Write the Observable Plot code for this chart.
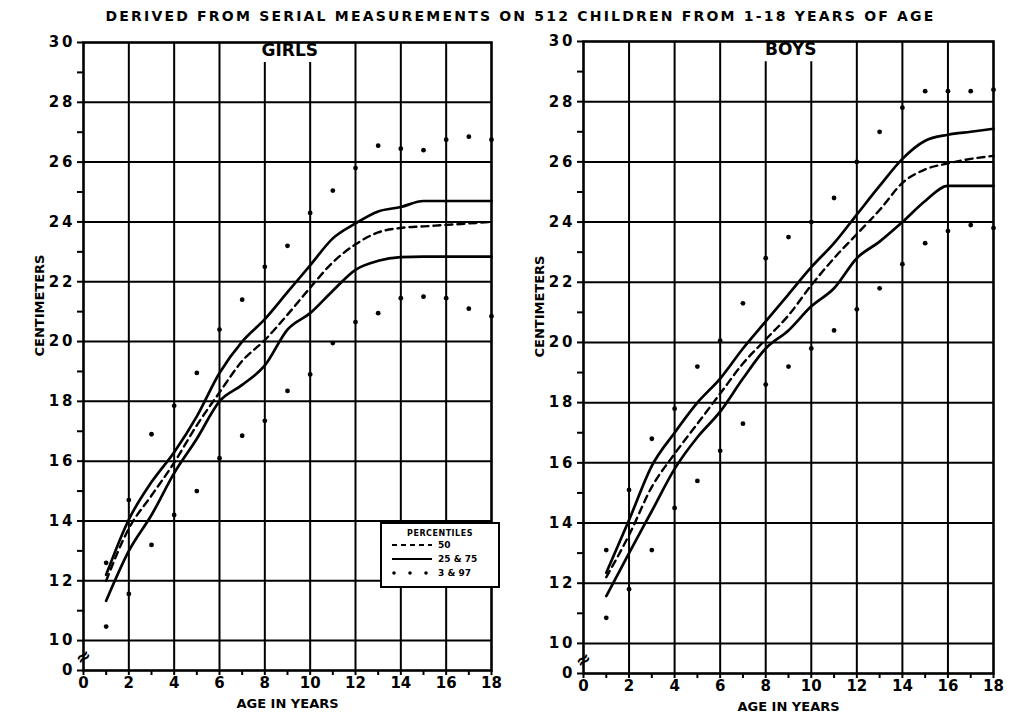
<!DOCTYPE html>
<html>
<head>
<meta charset="utf-8">
<script src="https://cdn.jsdelivr.net/npm/d3@7"></script>
<script src="https://cdn.jsdelivr.net/npm/@observablehq/plot@0.6"></script>
<style>
  body { margin: 0; background: #fff; }
  #root { position: relative; width: 1027px; height: 723px; background: #fff; overflow: hidden; font-family: "DejaVu Sans", sans-serif; }
  #title { position: absolute; left: 0; width: 1027px; top: 8px; text-align: center; font-weight: bold; font-size: 14px; letter-spacing: 2.2px; color: #000; white-space: nowrap; padding-left: 14px; box-sizing: border-box; }
  .panel { position: absolute; top: 0; }
  .panel svg [aria-label="y-axis tick label"] text { letter-spacing: 3px; }
  #legend { position: absolute; left: 380px; top: 522px; width: 116px; height: 62px; border: 2.5px solid #000; background: #fff; font-weight: bold; font-size: 8px; color: #000; }
  #legend .hdr { text-align: center; margin-top: 5px; letter-spacing: 0.5px; }
  #legend .row { display: flex; align-items: center; height: 14px; padding-left: 8px; }
  #legend .row span { margin-left: 4px; font-size: 9px; }
</style>
</head>
<body>
<div id="root">
  <div id="title">DERIVED FROM SERIAL MEASUREMENTS ON 512 CHILDREN FROM 1-18 YEARS OF AGE</div>
  <div id="girls" class="panel" style="left:0px"></div>
  <div id="boys" class="panel" style="left:500px"></div>
  <div id="legend"></div>
</div>
<script>
// ---- data ----
const ages = [1, 2, 3, 4, 5, 6, 7, 8, 9, 10, 11, 12, 13, 14, 15, 16, 17, 18];

const girlsP3  = [10.47, 11.56, 13.2, 14.2, 15.0, 16.1, 16.85, 17.35, 18.35, 18.9, 19.95, 20.65, 20.95, 21.45, 21.5, 21.45, 21.1, 20.85];
const girlsP25 = [11.33, 13.0, 14.2, 15.6, 16.75, 18.0, 18.55, 19.2, 20.4, 20.95, 21.7, 22.4, 22.7, 22.82, 22.84, 22.84, 22.84, 22.84];
const girlsP50 = [12.0, 13.75, 14.85, 15.95, 17.2, 18.3, 19.35, 20.05, 20.9, 21.8, 22.65, 23.25, 23.65, 23.8, 23.85, 23.9, 23.95, 24.0];
const girlsP75 = [12.2, 14.05, 15.3, 16.3, 17.5, 18.95, 20.0, 20.75, 21.65, 22.55, 23.45, 23.95, 24.35, 24.5, 24.7, 24.7, 24.7, 24.7];
const girlsP97 = [12.6, 14.7, 16.9, 17.85, 18.95, 20.4, 21.4, 22.5, 23.2, 24.3, 25.05, 25.8, 26.55, 26.45, 26.4, 26.75, 26.85, 26.75];

const boysP3  = [10.85, 11.8, 13.1, 14.5, 15.4, 16.4, 17.3, 18.6, 19.2, 19.8, 20.4, 21.1, 21.8, 22.6, 23.3, 23.7, 23.9, 23.8];
const boysP25 = [11.57, 13.0, 14.4, 15.8, 16.85, 17.7, 18.8, 19.8, 20.4, 21.2, 21.8, 22.8, 23.35, 24.0, 24.7, 25.2, 25.2, 25.2];
const boysP50 = [12.2, 13.6, 15.2, 16.3, 17.3, 18.3, 19.3, 20.1, 20.9, 21.9, 22.8, 23.6, 24.4, 25.3, 25.75, 25.95, 26.1, 26.2];
const boysP75 = [12.35, 14.1, 15.9, 17.0, 18.0, 18.8, 19.8, 20.7, 21.6, 22.5, 23.3, 24.25, 25.2, 26.1, 26.7, 26.9, 27.0, 27.1];
const boysP97 = [13.1, 15.1, 16.8, 17.8, 19.2, 20.06, 21.3, 22.8, 23.5, 24.0, 24.8, 26.0, 27.0, 27.8, 28.35, 28.35, 28.35, 28.4];

const xTicks = [0, 1, 2, 3, 4, 5, 6, 7, 8, 9, 10, 11, 12, 13, 14, 15, 16, 17, 18];
const yTicks = [9, 10, 11, 12, 13, 14, 15, 16, 17, 18, 19, 20, 21, 22, 23, 24, 25, 26, 27, 28, 29, 30];
const gridX = [2, 4, 6, 8, 10, 12, 14, 16];
const gridY = [10, 12, 14, 16, 18, 20, 22, 24, 26, 28];

function rows(vals) { return ages.map((a, i) => ({age: a, cm: vals[i]})); }

function panel(name, s, m) {
  const titleAge = 9.1;
  return Plot.plot({
    width: m.width, height: 723,
    marginLeft: m.left, marginRight: m.right, marginTop: m.top, marginBottom: m.bottom,
    x: {domain: [0, 18]},
    y: {domain: [9, 30]},
    style: {fontFamily: "DejaVu Sans", fontWeight: "bold", fontSize: "15px", color: "#000", background: "transparent"},
    marks: [
      Plot.ruleY(gridY, {stroke: "#000", strokeWidth: 2}),
      Plot.ruleX(gridX, {y1: 9, y2: d => (d === 8 || d === 10) ? 29.33 : 30, stroke: "#000", strokeWidth: 2}),
      Plot.frame({stroke: "#000", strokeWidth: 2.6}),
      Plot.axisY(yTicks, {tickSize: 6, tickPadding: 2, tickFormat: d => d === 9 ? "0" : (d % 2 === 0 ? String(d) : ""), label: null, strokeWidth: 2}),
      Plot.axisX(xTicks, {tickSize: 5, tickPadding: 2, tickFormat: d => d % 2 === 0 ? String(d) : "", label: null, strokeWidth: 2}),
      Plot.text(["CENTIMETERS"], {frameAnchor: "left", dx: -44, rotate: -90, fontSize: 13, fontWeight: "bold", text: d => d}),
      Plot.text(["AGE IN YEARS"], {frameAnchor: "bottom", dy: 37, fontSize: 13, fontWeight: "bold", text: d => d}),
      Plot.text([name], {x: titleAge, y: 29.72, fontSize: 17, fontWeight: "bold", text: d => d}),
      Plot.text(["≈"], {x: 0, y: 9.45, fontSize: 18, fontWeight: "bold", rotate: -35, text: d => d}),
      Plot.dot(rows(s.p97), {x: "age", y: "cm", r: 2.4, fill: "#000"}),
      Plot.dot(rows(s.p3), {x: "age", y: "cm", r: 2.4, fill: "#000"}),
      Plot.line(rows(s.p25), {x: "age", y: "cm", stroke: "#000", strokeWidth: 2.7, curve: "monotone-x"}),
      Plot.line(rows(s.p75), {x: "age", y: "cm", stroke: "#000", strokeWidth: 2.7, curve: "monotone-x"}),
      Plot.line(rows(s.p50), {x: "age", y: "cm", stroke: "#000", strokeWidth: 2.4, strokeDasharray: "7,5", curve: "monotone-x"})
    ]
  });
}

document.getElementById("girls").appendChild(panel("GIRLS",
  {p3: girlsP3, p25: girlsP25, p50: girlsP50, p75: girlsP75, p97: girlsP97},
  {width: 515, left: 83, right: 24, top: 42, bottom: 53}));
document.getElementById("boys").appendChild(panel("BOYS",
  {p3: boysP3, p25: boysP25, p50: boysP50, p75: boysP75, p97: boysP97},
  {width: 527, left: 83, right: 34, top: 41, bottom: 50}));

// legend
const legendItems = [
  {label: "50", dash: "5,4", dots: false},
  {label: "25 & 75", dash: null, dots: false},
  {label: "3 & 97", dash: null, dots: true}
];
const lg = document.getElementById("legend");
const hdr = document.createElement("div");
hdr.className = "hdr"; hdr.textContent = "PERCENTILES";
lg.appendChild(hdr);
for (const it of legendItems) {
  const row = document.createElement("div");
  row.className = "row";
  const sw = d3.create("svg").attr("width", 44).attr("height", 10);
  if (it.dots) {
    sw.selectAll("circle").data([4, 20, 36]).join("circle").attr("cx", d => d).attr("cy", 5).attr("r", 1.8).attr("fill", "#000");
  } else {
    sw.append("line").attr("x1", 2).attr("x2", 42).attr("y1", 5).attr("y2", 5).attr("stroke", "#000").attr("stroke-width", 2)
      .attr("stroke-dasharray", it.dash);
  }
  row.appendChild(sw.node());
  const sp = document.createElement("span");
  sp.textContent = it.label;
  row.appendChild(sp);
  lg.appendChild(row);
}
</script>
</body>
</html>
